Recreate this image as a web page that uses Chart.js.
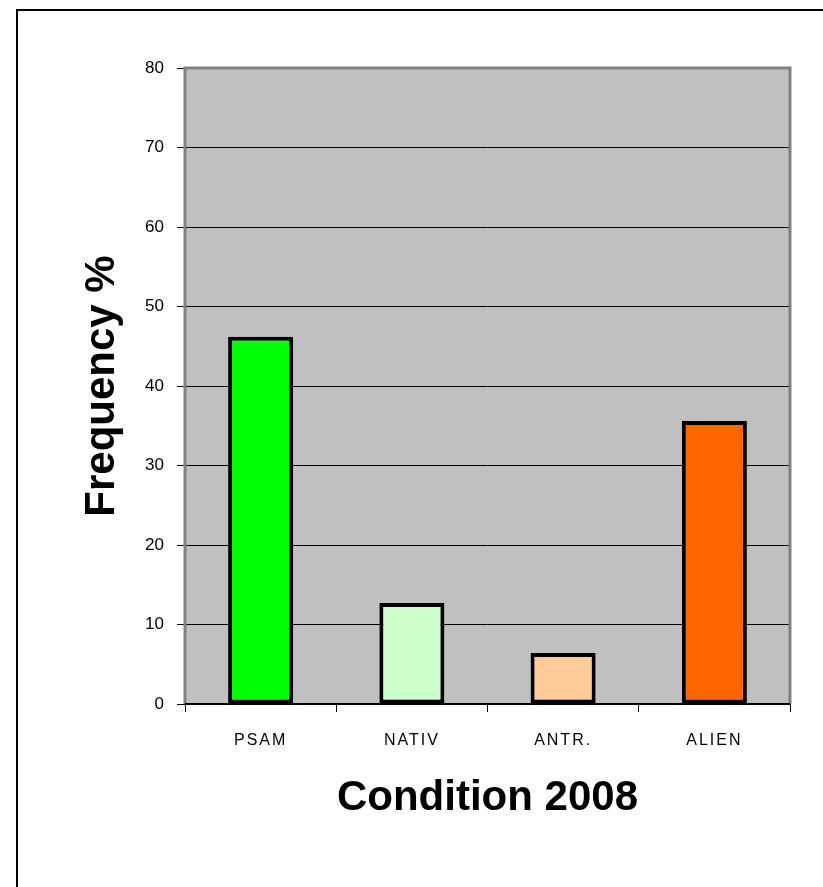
<!DOCTYPE html>
<html>
<head>
<meta charset="utf-8">
<script src="https://cdn.jsdelivr.net/npm/chart.js@4/dist/chart.umd.min.js"></script>
<style>
  html, body { margin: 0; padding: 0; background: #fff; }
  #wrap { position: relative; width: 823px; height: 887px; overflow: hidden; }
  #frame { position: absolute; left: 16px; top: 9px; width: 900px; height: 900px;
           border-top: 2px solid #000; border-left: 2px solid #000; }
  #c { position: absolute; left: 0; top: 0; }
</style>
</head>
<body>
<div id="wrap">
  <div id="frame"></div>
  <canvas id="c" width="823" height="887"></canvas>
</div>
<script>
const categories = ['PSAM', 'NATIV', 'ANTR.', 'ALIEN'];
const frequency = [46.2, 12.7, 6.4, 35.6];
const barColors = ['#00ff00', '#ccffcc', '#ffcc99', '#ff6600'];

const plotBg = {
  id: 'plotBg',
  beforeDraw(chart) {
    const a = chart.chartArea, ctx = chart.ctx;
    ctx.save();
    ctx.fillStyle = '#c0c0c0';
    ctx.fillRect(a.left, a.top, a.right - a.left, a.bottom - a.top);
    ctx.restore();
    // spaced-out category labels like the original
    const x = chart.scales.x;
    if (!x._spaced) {
      const orig = x.drawLabels;
      x.drawLabels = function (area) {
        const c = this.ctx;
        c.save();
        c.letterSpacing = '2px';
        orig.call(this, area);
        c.restore();
      };
      x._spaced = true;
    }
  },
  afterDatasetsDraw(chart) {
    const a = chart.chartArea, ctx = chart.ctx;
    ctx.save();
    ctx.strokeStyle = '#808080';
    ctx.lineWidth = 3;
    ctx.beginPath();
    ctx.moveTo(a.left, a.bottom);
    ctx.lineTo(a.left, a.top);
    ctx.lineTo(a.right, a.top);
    ctx.lineTo(a.right, a.bottom);
    ctx.stroke();
    ctx.strokeStyle = '#000';
    ctx.lineWidth = 2;
    ctx.beginPath();
    ctx.moveTo(a.left, a.bottom);
    ctx.lineTo(a.right, a.bottom);
    ctx.stroke();
    ctx.restore();
  }
};

new Chart(document.getElementById('c'), {
  type: 'bar',
  data: {
    labels: categories,
    datasets: [{
      data: frequency,
      backgroundColor: barColors,
      borderColor: '#000',
      borderWidth: 4,
      borderSkipped: false,
      categoryPercentage: 1,
      barPercentage: 0.43
    }]
  },
  options: {
    responsive: false,
    animation: false,
    layout: { padding: { left: 0, top: 68, right: 33, bottom: 0 } },
    plugins: { legend: { display: false }, tooltip: { enabled: false } },
    scales: {
      x: {
        afterFit: s => { s.height = 183; },
        grid: { offset: true, drawOnChartArea: false, color: '#000', tickLength: 8 },
        border: { display: true, color: '#000', width: 2 },
        ticks: { color: '#000', padding: 19, font: { family: 'Liberation Sans, Arial', size: 16 } },
        title: {
          display: true, text: 'Condition 2008', color: '#000',
          font: { family: 'Liberation Sans, Arial', size: 42, weight: 'bold' },
          padding: { top: 0, bottom: 63 }
        }
      },
      y: {
        min: 0, max: 80,
        afterFit: s => { s.width = 185; },
        grid: { color: '#000', lineWidth: 1, tickLength: 8 },
        border: { display: false },
        ticks: { stepSize: 10, color: '#000', padding: 13, font: { family: 'Liberation Sans, Arial', size: 17 } },
        title: {
          display: true, text: 'Frequency %', color: '#000',
          font: { family: 'Liberation Sans, Arial', size: 42, weight: 'bold' },
          padding: { top: 77, bottom: 0 }
        }
      }
    }
  },
  plugins: [plotBg]
});
</script>
</body>
</html>
